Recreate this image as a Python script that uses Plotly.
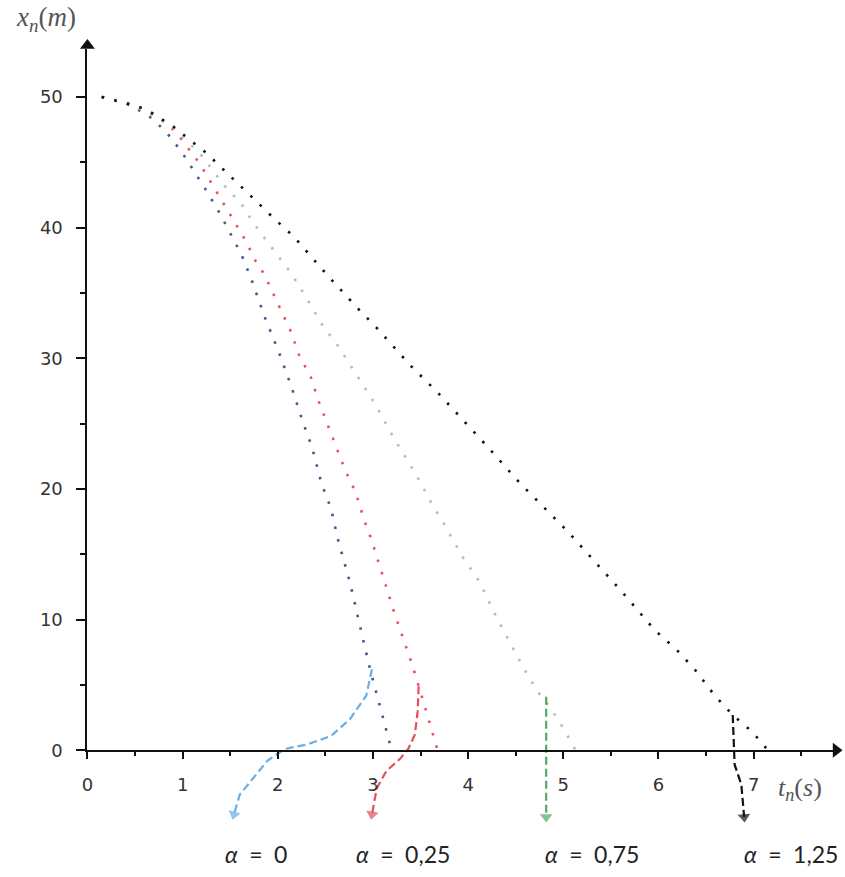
import plotly.graph_objects as go

# ---------------- data ----------------
# alpha = 0
t_a0 = [0.15, 0.45, 0.69, 0.84, 0.99, 1.13, 1.26, 1.39, 1.51, 1.62, 1.72, 1.86, 2.01,
        2.14, 2.26, 2.36, 2.46, 2.56, 2.63, 2.76, 2.88, 2.97, 3.08, 3.18, 3.21]
x_a0 = [50.0, 49.4, 48.3, 47.2, 45.8, 44.2, 42.7, 41.1, 39.4, 37.9, 36.1, 33.2, 30.5,
        27.9, 25.2, 23.2, 20.4, 18.5, 16.2, 12.8, 9.0, 6.2, 3.2, 0.45, 0.0]
# alpha = 0.25
t_a25 = [0.15, 0.45, 0.70, 0.92, 1.18, 1.30, 1.42, 1.54, 1.67, 1.77, 1.86, 2.03, 2.14,
         2.22, 2.35, 2.43, 2.52, 2.61, 2.71, 2.82, 2.90, 2.99, 3.11, 3.23, 3.32, 3.41,
         3.49, 3.56, 3.63, 3.68]
x_a25 = [50.0, 49.5, 48.7, 47.4, 44.9, 43.4, 41.9, 40.5, 38.9, 37.4, 36.4, 33.7, 32.0,
         30.3, 28.5, 26.7, 25.0, 23.2, 21.4, 19.7, 17.8, 16.0, 13.2, 10.4, 8.5, 6.6,
         4.7, 3.0, 1.2, 0.0]
# alpha = 0.75
t_a75 = [0.15, 0.50, 0.90, 1.20, 1.44, 1.62, 1.74, 1.88, 2.10, 2.22, 2.36, 2.48, 2.62,
         2.76, 2.90, 3.04, 3.18, 3.32, 3.46, 3.60, 3.74, 3.95, 4.12, 4.29, 4.45, 4.59,
         4.73, 4.82, 4.96, 5.08, 5.13]
x_a75 = [50.0, 49.3, 47.7, 45.5, 43.2, 41.8, 40.4, 39.0, 36.9, 35.6, 33.9, 32.4, 31.1,
         29.5, 28.0, 26.3, 24.4, 22.7, 21.0, 19.1, 17.4, 14.7, 12.9, 10.3, 8.1, 6.2,
         4.5, 3.7, 2.2, 0.7, 0.0]
# alpha = 1.25
t_a125 = [0.15, 0.60, 0.89, 1.06, 1.25, 1.42, 1.58, 1.79, 1.96, 2.17, 2.36, 2.54, 2.83,
          3.03, 3.40, 3.69, 4.17, 4.55, 5.04, 5.62, 5.96, 6.19, 6.38, 6.59, 6.78, 6.94,
          7.06, 7.15]
x_a125 = [50.0, 49.1, 47.8, 46.8, 45.7, 44.5, 43.4, 41.9, 40.7, 39.3, 37.7, 36.2, 33.9,
          32.4, 29.4, 27.3, 23.5, 20.4, 16.8, 12.1, 9.2, 7.7, 6.2, 4.2, 2.7, 1.7,
          0.8, 0.0]

# pointer curves (dashed; the last point carries the arrow head)
pt_a0 = [2.99, 2.93, 2.76, 2.56, 2.31, 2.07, 1.89, 1.70, 1.60, 1.54]
px_a0 = [6.2, 4.2, 2.4, 1.1, 0.45, 0.1, -0.8, -2.5, -3.4, -4.9]
pt_a25 = [3.48, 3.47, 3.44, 3.37, 3.29, 3.14, 3.04, 2.99]
px_a25 = [4.9, 3.0, 1.2, 0.1, -0.6, -1.6, -2.9, -4.9]
pt_a75 = [4.82, 4.82]
px_a75 = [4.1, -5.1]
pt_a125 = [6.78, 6.79, 6.80, 6.87, 6.90]
px_a125 = [2.7, 0.0, -1.1, -2.6, -5.1]

labels = ["α = 0", "α = 0,25", "α = 0,75", "α = 1,25"]
x_ticks = [0, 1, 2, 3, 4, 5, 6, 7]
y_ticks = [0, 10, 20, 30, 40, 50]

# ---------------- geometry ----------------
W, H = 845, 877
X0_PX, Y0_PX = 82.0, 759.0      # pixel position of the origin
PX_T, PX_V = 95.86, 13.22       # pixels per unit
XEND_PX, YEND_PX = 834.0, 50.0  # end of the drawn axes
ARROW_CX, ARROW_CY = 836.0, 46.0  # centres of the axis arrow heads

full_x = [-X0_PX / PX_T, (W - X0_PX) / PX_T]
full_y = [-(H - Y0_PX) / PX_V, Y0_PX / PX_V]

dot_cols = ["#46558c", "#e8505c", "#a9c6a2", "#111111"]
ptr_cols = ["#6aaee6", "#e5505a", "#54a866", "#111111"]

fig = go.Figure()

curves = [(t_a0, x_a0), (t_a25, x_a25), (t_a75, x_a75), (t_a125, x_a125)]
for (tt, xx), c in zip(curves, dot_cols):
    fig.add_trace(go.Scatter(x=tt, y=xx, mode="lines",
                             line=dict(color=c, width=2.6, dash="2.5px,10.5px"),
                             hoverinfo="skip", showlegend=False))

pointers = [(pt_a0, px_a0), (pt_a25, px_a25), (pt_a75, px_a75), (pt_a125, px_a125)]
for (tt, xx), c in zip(pointers, ptr_cols):
    sizes = [0] * (len(tt) - 1) + [11]
    fig.add_trace(go.Scatter(x=tt, y=xx, mode="lines+markers",
                             line=dict(color=c, width=2.2, dash="8px,4px"),
                             marker=dict(symbol="triangle-up", size=sizes, color=c,
                                         angleref="previous", line=dict(width=0)),
                             hoverinfo="skip", showlegend=False))

# dummy trace so the display axes exist
fig.add_trace(go.Scatter(x=[0], y=[0], xaxis="x2", yaxis="y2", mode="markers",
                         marker=dict(opacity=0), hoverinfo="skip", showlegend=False))

# axis arrow heads
fig.add_trace(go.Scatter(
    x=[(ARROW_CX - X0_PX) / PX_T, 0],
    y=[0, (Y0_PX - ARROW_CY) / PX_V],
    mode="markers",
    marker=dict(symbol=["triangle-right", "triangle-up"], size=13, color="#111",
                line=dict(width=0)),
    hoverinfo="skip", showlegend=False))

# axis titles
fig.add_annotation(x=8 / W, y=1 - 19 / H, xref="paper", yref="paper",
                   xanchor="left", yanchor="middle", showarrow=False,
                   text="<i>x</i><sub><i>n</i></sub>(<i>m</i>)",
                   font=dict(family="Liberation Serif", size=27, color="#555"))
fig.add_annotation(x=776 / W, y=1 - 798 / H, xref="paper", yref="paper",
                   xanchor="left", yanchor="middle", showarrow=False,
                   text="<i>t</i><sub><i>n</i></sub>(<i>s</i>)",
                   font=dict(family="Liberation Serif", size=26, color="#555"))

# alpha labels
label_cx = [252, 400, 590, 791]
for lab, cx in zip(labels, label_cx):
    a, rest = lab.split(" ", 1)
    rest = rest.replace("= ", "=\u2002")
    fig.add_annotation(x=cx / W, y=1 - 864 / H, xref="paper", yref="paper",
                       xanchor="center", yanchor="middle", showarrow=False,
                       text=f"<i>{a}</i>\u2002{rest}",
                       font=dict(family="Lato", size=23, color="#222"))

fig.update_layout(
    width=W, height=H, autosize=False,
    margin=dict(l=0, r=0, t=0, b=0, pad=0),
    paper_bgcolor="white", plot_bgcolor="rgba(0,0,0,0)",
    showlegend=False,
    xaxis=dict(domain=[0, 1], range=full_x, visible=False, fixedrange=True),
    yaxis=dict(domain=[0, 1], range=full_y, visible=False, fixedrange=True),
    xaxis2=dict(domain=[X0_PX / W, XEND_PX / W],
                range=[0, (XEND_PX - X0_PX) / PX_T], anchor="y2",
                showline=True, linecolor="#111", linewidth=2,
                showgrid=False, zeroline=False,
                tickmode="array", tickvals=x_ticks, ticktext=[str(v) for v in x_ticks],
                ticks="outside", ticklen=7, tickwidth=1.5, tickcolor="#111",
                minor=dict(dtick=0.5, ticks="outside", ticklen=4, tickwidth=1.5,
                           tickcolor="#111", showgrid=False),
                ticklabelstandoff=10,
                tickfont=dict(family="DejaVu Sans", size=18, color="#333"),
                fixedrange=True),
    yaxis2=dict(domain=[(H - Y0_PX) / H, (H - YEND_PX) / H],
                range=[0, (Y0_PX - YEND_PX) / PX_V], anchor="x2",
                showline=True, linecolor="#111", linewidth=2,
                showgrid=False, zeroline=False,
                tickmode="array", tickvals=y_ticks, ticktext=[str(v) for v in y_ticks],
                ticks="outside", ticklen=9, tickwidth=1.5, tickcolor="#111",
                minor=dict(dtick=5, ticks="outside", ticklen=5, tickwidth=1.5,
                           tickcolor="#111", showgrid=False),
                ticklabelstandoff=10,
                tickfont=dict(family="DejaVu Sans", size=18, color="#333"),
                fixedrange=True),
)

fig.write_html("out.html")
